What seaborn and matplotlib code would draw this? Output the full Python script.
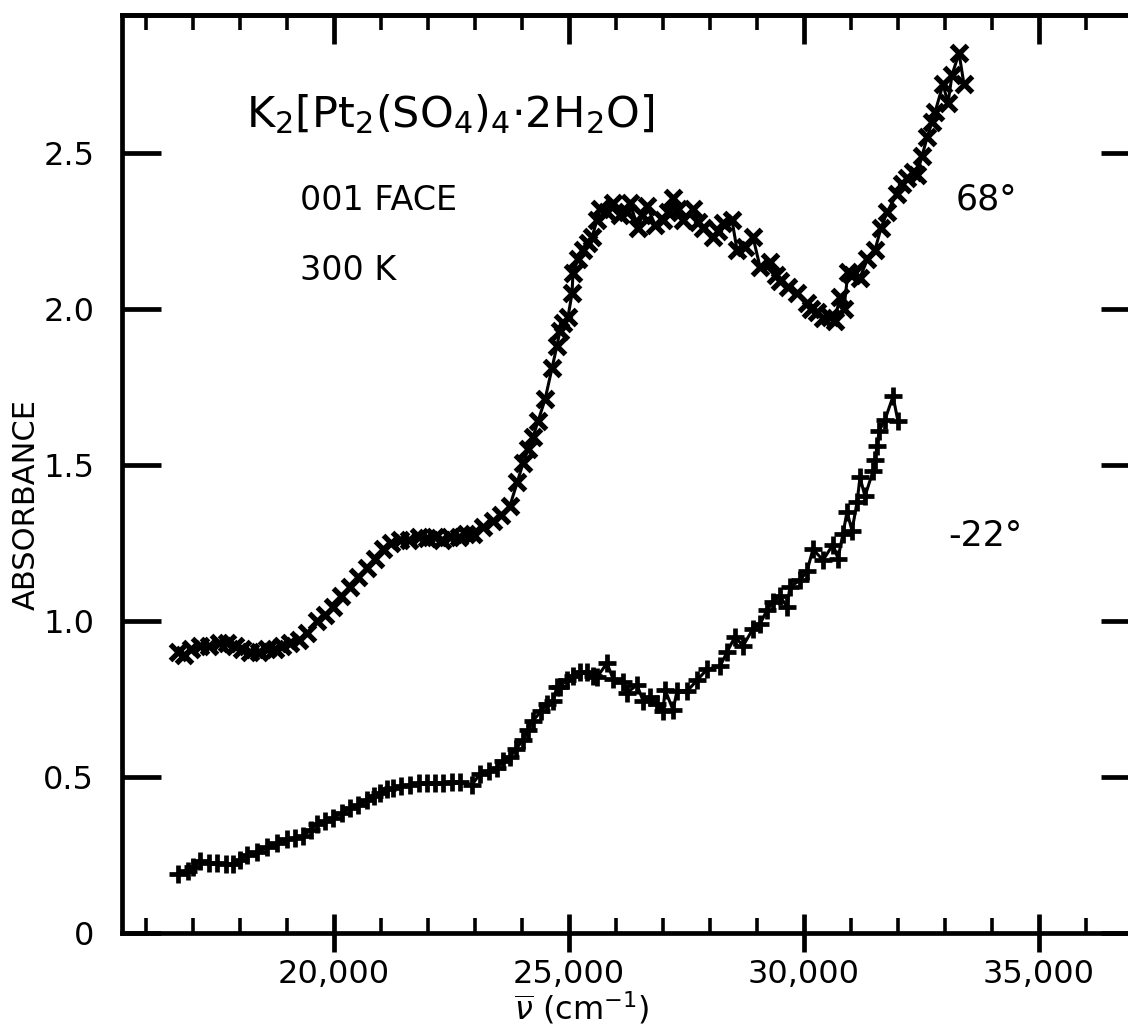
import numpy as np
import pandas as pd
import matplotlib
matplotlib.use("Agg")
import matplotlib.pyplot as plt
from matplotlib.ticker import FixedLocator, FixedFormatter
import seaborn as sns

# ---------------- data ----------------
wn_68 = [16680, 16800, 16950, 17150, 17350, 17550, 17720, 17900, 18050, 18210,
         18400, 18570, 18750, 18900, 19060, 19250, 19430, 19640, 19800, 19980,
         20150, 20340, 20520, 20700, 20870, 21040, 21220, 21400, 21600, 21800,
         21980, 22150, 22300, 22470, 22650, 22800, 22960, 23170, 23380, 23560,
         23745, 23900, 24020, 24130, 24234, 24340, 24490, 24638, 24740, 24808,
         24872, 24979, 25064, 25085, 25191, 25298, 25400, 25489, 25596, 25660,
         25800, 25936, 26080, 26234, 26298, 26468, 26560, 26660, 26830, 27000,
         27100, 27213, 27320, 27426, 27638, 27750, 27851, 28064, 28170, 28277,
         28468, 28574, 28750, 28915, 29064, 29277, 29400, 29489, 29650, 29851,
         30064, 30150, 30277, 30400, 30553, 30650, 30766, 30850, 30936, 31021,
         31191, 31350, 31511, 31640, 31766, 31979, 32080, 32191, 32319, 32400,
         32510, 32620, 32723, 32787, 32957, 33064, 33149, 33298, 33404]
abs_68 = [0.90, 0.89, 0.91, 0.92, 0.92, 0.93, 0.93, 0.92, 0.91, 0.90,
          0.90, 0.91, 0.91, 0.92, 0.93, 0.94, 0.96, 1.00, 1.02, 1.045,
          1.08, 1.11, 1.14, 1.17, 1.20, 1.23, 1.25, 1.26, 1.26, 1.27,
          1.265, 1.27, 1.26, 1.27, 1.27, 1.28, 1.28, 1.30, 1.32, 1.34,
          1.37, 1.445, 1.505, 1.55, 1.59, 1.64, 1.71, 1.81, 1.88, 1.93,
          1.955, 1.975, 2.05, 2.115, 2.16, 2.19, 2.21, 2.23, 2.285, 2.32,
          2.31, 2.34, 2.30, 2.31, 2.34, 2.26, 2.30, 2.33, 2.27, 2.285,
          2.31, 2.355, 2.32, 2.285, 2.32, 2.28, 2.26, 2.23, 2.25, 2.275,
          2.285, 2.19, 2.20, 2.23, 2.135, 2.15, 2.11, 2.09, 2.07, 2.05,
          2.02, 2.00, 1.99, 1.97, 1.975, 1.96, 2.04, 2.00, 2.12, 2.11,
          2.10, 2.16, 2.19, 2.26, 2.31, 2.37, 2.40, 2.42, 2.44, 2.43,
          2.49, 2.55, 2.60, 2.63, 2.72, 2.66, 2.75, 2.82, 2.72]

wn_m22 = [16681, 16894, 17000, 17149, 17330, 17511, 17700, 17851, 18000, 18149,
          18370, 18574, 18780, 19000, 19170, 19340, 19500, 19638, 19800, 19979,
          20160, 20340, 20520, 20702, 20850, 20979, 21120, 21255, 21430, 21617,
          21800, 21979, 22150, 22319, 22500, 22681, 22936, 23106, 23300, 23468,
          23600, 23745, 23880, 24021, 24130, 24234, 24400, 24532, 24660, 24745,
          24809, 24957, 25085, 25234, 25383, 25511, 25596, 25809, 25936, 26149,
          26234, 26447, 26574, 26723, 26872, 27000, 27043, 27213, 27298, 27511,
          27723, 27936, 28213, 28362, 28532, 28702, 28915, 29064, 29213, 29340,
          29489, 29638, 29702, 29915, 30064, 30191, 30404, 30617, 30723, 30830,
          30915, 31021, 31128, 31191, 31298, 31468, 31510, 31553, 31600, 31723,
          31894, 32000]
abs_m22 = [0.19, 0.20, 0.21, 0.23, 0.225, 0.225, 0.22, 0.22, 0.235, 0.25,
           0.26, 0.275, 0.29, 0.30, 0.305, 0.31, 0.33, 0.35, 0.36, 0.37,
           0.385, 0.40, 0.41, 0.425, 0.44, 0.45, 0.46, 0.465, 0.47, 0.475,
           0.48, 0.48, 0.48, 0.48, 0.485, 0.485, 0.475, 0.51, 0.52, 0.53,
           0.55, 0.565, 0.59, 0.62, 0.65, 0.68, 0.71, 0.735, 0.745, 0.79,
           0.79, 0.81, 0.825, 0.835, 0.835, 0.825, 0.82, 0.865, 0.815, 0.805,
           0.77, 0.795, 0.745, 0.755, 0.735, 0.71, 0.78, 0.715, 0.775, 0.775,
           0.81, 0.845, 0.855, 0.90, 0.95, 0.92, 0.975, 0.99, 1.035, 1.06,
           1.08, 1.045, 1.11, 1.13, 1.16, 1.23, 1.195, 1.245, 1.20, 1.28,
           1.35, 1.29, 1.38, 1.46, 1.40, 1.48, 1.515, 1.56, 1.61, 1.645,
           1.72, 1.64]

x_major = [20000, 25000, 30000, 35000]
x_major_labels = ["20,000", "25,000", "30,000", "35,000"]
x_minor = [16000, 17000, 18000, 19000, 21000, 22000, 23000, 24000,
           26000, 27000, 28000, 29000, 31000, 32000, 33000, 34000, 36000, 37000]
y_major = [0, 0.5, 1.0, 1.5, 2.0, 2.5]
y_major_labels = ["0", "0.5", "1.0", "1.5", "2.0", "2.5"]

# ---------------- figure ----------------
sns.set_theme(style="ticks")
plt.rcParams["font.family"] = ["DejaVu Sans"]
plt.rcParams["mathtext.fontset"] = "dejavusans"
for k in ["text.color", "axes.labelcolor", "xtick.color", "ytick.color", "axes.edgecolor"]:
    plt.rcParams[k] = "black"

W, H = 1128, 1028
fig = plt.figure(figsize=(W / 100, H / 100), dpi=100)
fig.patch.set_facecolor("white")

L_px, R_px, T_px, B_px = 122, 1140, 15, 933
ax = fig.add_axes([L_px / W, (H - B_px) / H, (R_px - L_px) / W, (B_px - T_px) / H])
ax.set_facecolor("white")

df68 = pd.DataFrame({"wn": wn_68, "A": abs_68})
dfm22 = pd.DataFrame({"wn": wn_m22, "A": abs_m22})

sns.lineplot(data=df68, x="wn", y="A", ax=ax, color="black", linewidth=2.2,
             marker="x", markersize=12, markeredgewidth=3.8, markeredgecolor="black",
             estimator=None, sort=False)
sns.lineplot(data=dfm22, x="wn", y="A", ax=ax, color="black", linewidth=2.2,
             marker="+", markersize=13, markeredgewidth=3.4, markeredgecolor="black",
             estimator=None, sort=False)

px_per_k = 0.047
ax.set_xlim(20000 + (L_px - 334) / px_per_k, 20000 + (R_px - 334) / px_per_k)
ax.set_ylim(0, (B_px - T_px) / 312)

for s in ax.spines.values():
    s.set_linewidth(3.4)
    s.set_color("black")

ax.xaxis.set_major_locator(FixedLocator(x_major))
ax.xaxis.set_major_formatter(FixedFormatter(x_major_labels))
ax.xaxis.set_minor_locator(FixedLocator(x_minor))
ax.yaxis.set_major_locator(FixedLocator(y_major))
ax.yaxis.set_major_formatter(FixedFormatter(y_major_labels))

ax.tick_params(axis="x", which="major", direction="inout", length=27, width=3.4,
               bottom=True, top=False, labelsize=23, pad=5, colors="black")
ax.tick_params(axis="x", which="minor", direction="in", length=11, width=2.6,
               bottom=True, top=False)
ax.tick_params(axis="y", which="major", direction="in", length=28, width=3.4,
               left=True, right=True, labelsize=23, pad=20, colors="black")

top = ax.secondary_xaxis("top")
top.xaxis.set_major_locator(FixedLocator(x_major))
top.xaxis.set_minor_locator(FixedLocator(x_minor))
top.tick_params(axis="x", which="major", direction="in", length=21, width=3.4,
                labeltop=False, colors="black")
top.tick_params(axis="x", which="minor", direction="in", length=11, width=2.6)
top.spines["top"].set_linewidth(3.4)

ax.set_xlabel("")
ax.set_ylabel("")


def fig_xy(px, py):
    return px / W, (H - py) / H


ax.text(*fig_xy(246, 127),
        r"$\mathregular{K_2\left[Pt_2(SO_4)_4{\cdot}2H_2O\right]}$",
        transform=fig.transFigure, fontsize=31, ha="left", va="baseline")
ax.text(*fig_xy(300, 210), "001 FACE", transform=fig.transFigure,
        fontsize=24, ha="left", va="baseline")
ax.text(*fig_xy(300, 280), "300 K", transform=fig.transFigure,
        fontsize=24, ha="left", va="baseline")
ax.text(*fig_xy(956, 210), "68°", transform=fig.transFigure,
        fontsize=25, ha="left", va="baseline")
ax.text(*fig_xy(948, 546), "-22°", transform=fig.transFigure,
        fontsize=25, ha="left", va="baseline")

fig.text(*fig_xy(26, 505), "ABSORBANCE", rotation=90, fontsize=22,
         ha="center", va="center")
fig.text(*fig_xy(582, 1020), r"$\overline{\nu}$ (cm$^{-1}$)", fontsize=23,
         ha="center", va="baseline")

fig.savefig("out.png", dpi=100, facecolor="white")
